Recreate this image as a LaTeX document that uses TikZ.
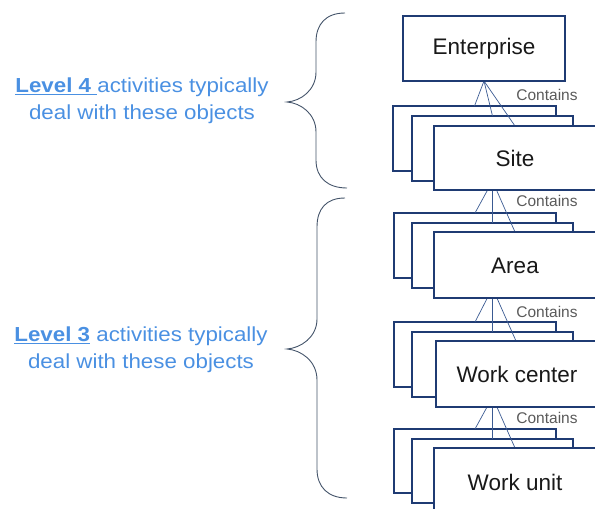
\documentclass[tikz,border=0pt]{standalone}
\usepackage{fontspec}
\setmainfont{Liberation Sans}
\newfontfamily\lvfont[FakeStretch=1.1]{Liberation Sans}
\definecolor{boxc}{HTML}{1F3B73}
\definecolor{connc}{HTML}{3A5A92}
\definecolor{lvc}{HTML}{4A90E2}
\definecolor{bracec}{HTML}{44546A}
\definecolor{contc}{HTML}{5A5A5A}
\pgfdeclarelayer{lower}
\pgfdeclarelayer{conn}
\pgfsetlayers{lower,conn,main}
\begin{document}
\begin{tikzpicture}[x=1pt,y=-1pt,
  obox/.style={draw=boxc, line width=1.5pt, fill=white, rectangle, inner sep=0pt, outer sep=0pt, anchor=north west, minimum width=162pt, minimum height=65pt},
  lbl/.style={font=\fontsize{22.5}{27}\selectfont, text=black!90},
  conline/.style={draw=connc, line width=0.7pt},
  contlbl/.style={font=\fontsize{15.5}{18}\selectfont, text=contc},
  lvtext/.style={font=\lvfont\fontsize{20.3}{27}\selectfont, text=lvc, align=center},
  brace/.style={draw=bracec, line width=0.9pt}]
\useasboundingbox (0,0) rectangle (595,509);
\clip (0,0) rectangle (595,509);

% Enterprise
\node[obox, minimum height=65pt] (ent) at (403,16) {};
\node[lbl] (entl) at (484,48.5) {Enterprise};

% Site stack
\begin{pgfonlayer}{lower}
\node[obox, minimum width=163pt] (siteb) at (393,106) {};
\node[obox, minimum width=161pt] (sitem) at (412,116) {};
\end{pgfonlayer}
\node[obox, minimum height=64pt] (sitef) at (434,126) {};
\node[lbl] (sitel) at (515,158) {Site};

% Area stack
\begin{pgfonlayer}{lower}
\node[obox] (areab) at (394,213) {};
\node[obox, minimum width=161pt] (aream) at (412,223) {};
\end{pgfonlayer}
\node[obox, minimum height=66pt] (areaf) at (434,232) {};
\node[lbl] (areal) at (515,266) {Area};

% Work center stack
\begin{pgfonlayer}{lower}
\node[obox] (wcb) at (394,322) {};
\node[obox, minimum width=161pt] (wcm) at (412,332) {};
\end{pgfonlayer}
\node[obox, minimum width=160pt, minimum height=66pt] (wcf) at (436,341) {};
\node[lbl] (wcl) at (517,374) {Work center};

% Work unit stack
\begin{pgfonlayer}{lower}
\node[obox, minimum height=64pt] (wub) at (394,429) {};
\node[obox, minimum width=161pt, minimum height=64pt] (wum) at (412,439) {};
\end{pgfonlayer}
\node[obox] (wuf) at (434,448) {};
\node[lbl] (wul) at (515,482) {Work unit};

% Connectors
\begin{pgfonlayer}{conn}
\foreach \p/\c in {ent/site, sitem/area, aream/wc, wcm/wu}{
  \draw[conline] (\p.south) -- (\c b.north);
  \draw[conline] (\p.south) -- (\c m.north);
  \draw[conline] (\p.south) -- (\c f.north);
}
\end{pgfonlayer}

% Contains labels
\node[contlbl] (c1) at (547,95) {Contains};
\node[contlbl] (c2) at (547,201) {Contains};
\node[contlbl] (c3) at (547,312) {Contains};
\node[contlbl] (c4) at (547,418) {Contains};

% Braces
\draw[brace] (345,13) .. controls (326,13) and (316,24) .. (316,42) -- (316,72)
  .. controls (316,90) and (301,101) .. (287,102)
  .. controls (301,103) and (316,114) .. (316,132) -- (316,160)
  .. controls (316,178) and (328,188) .. (347,188);
\draw[brace] (345,198) .. controls (326,198) and (317,209) .. (317,227) -- (317,319)
  .. controls (317,337) and (301,348) .. (287,349)
  .. controls (301,350) and (317,361) .. (317,380) -- (317,469)
  .. controls (317,487) and (328,498) .. (347,498);

% Level texts
\node[lvtext] (l4) at (142,101) {\underline{\textbf{Level 4 }}activities typically\\deal with these objects};
\node[lvtext] (l3) at (141,350) {\underline{\textbf{Level 3}} activities typically\\deal with these objects};
\end{tikzpicture}
\end{document}
